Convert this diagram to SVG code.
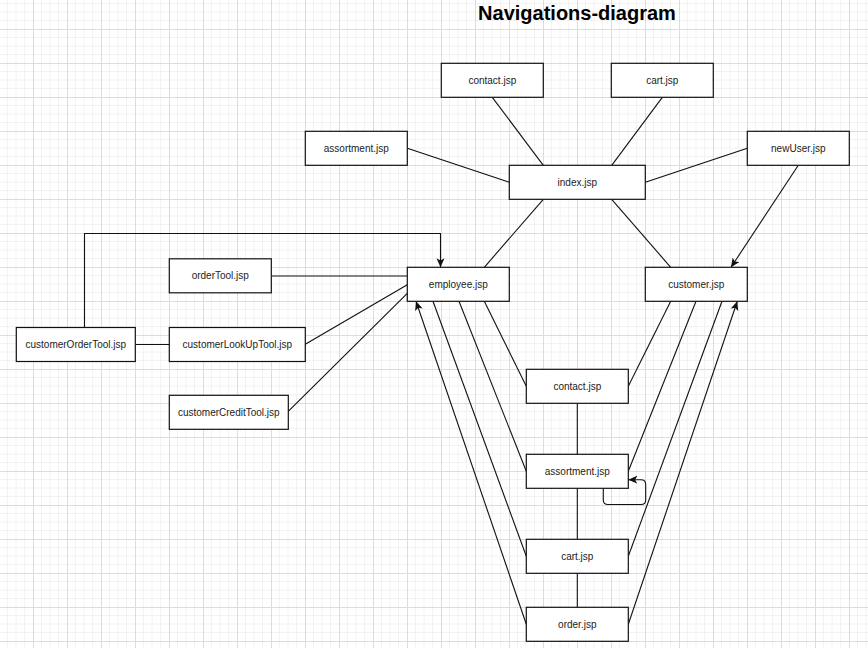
<svg xmlns="http://www.w3.org/2000/svg" width="868" height="648" viewBox="0 0 868 648">
<defs>
<pattern id="grid" patternUnits="userSpaceOnUse" x="33" y="29" width="34" height="34">
<path d="M8.5,0 V34 M17,0 V34 M25.5,0 V34 M0,8.5 H34 M0,17 H34 M0,25.5 H34" stroke="#f2f2f2" stroke-width="1" fill="none"/>
<path d="M0.5,0 V34 M0,0.5 H34" stroke="#dcdcdc" stroke-width="1" fill="none"/>
</pattern>
<marker id="arr" markerUnits="userSpaceOnUse" markerWidth="10" markerHeight="9" refX="9" refY="4" orient="auto">
<path d="M0,0 L9,4 L0,8 L2.2,4 Z" fill="#111"/>
</marker>
</defs>
<style>
.box{fill:#fff;stroke:#111;stroke-width:1.2}
.lbl{font-family:"Liberation Sans",Arial,sans-serif;font-size:10px;fill:#222;text-anchor:middle}
.edge{fill:none;stroke:#111;stroke-width:1.1}
.title{font-family:"Liberation Sans",Arial,sans-serif;font-size:20px;font-weight:bold;fill:#000;text-anchor:middle}
</style>
<rect width="868" height="648" fill="#fff"/>
<rect width="868" height="648" fill="url(#grid)"/>
<text class="title" x="577" y="20">Navigations-diagram</text>
<g id="connectors">
<path class="edge" d="M492.3,97.3 L543.3,165.3"/>
<path class="edge" d="M662.3,97.3 L611.7,165.3"/>
<path class="edge" d="M407.3,148.3 L509.3,182.3"/>
<path class="edge" d="M747.3,148.3 L645.3,182.3"/>
<path class="edge" d="M798.3,165.3 L731,267.3" marker-end="url(#arr)"/>
<path class="edge" d="M543.3,199.3 L484.3,267.3"/>
<path class="edge" d="M611.7,199.3 L670.7,267.3"/>
<path class="edge" d="M84.5,327.5 V233.5 H440.5 V267.3" marker-end="url(#arr)"/>
<path class="edge" d="M271.3,276 H407.3"/>
<path class="edge" d="M305.3,344.3 L407.3,284.7"/>
<path class="edge" d="M288,411.7 L407.3,293.3"/>
<path class="edge" d="M135.3,344.5 H169.3"/>
<path class="edge" d="M484.3,301.3 L526.3,386.3"/>
<path class="edge" d="M459,301.3 L526.3,471.3"/>
<path class="edge" d="M433,301.3 L526.3,556.3"/>
<path class="edge" d="M526.3,624.3 L416,301.3" marker-end="url(#arr)"/>
<path class="edge" d="M670.7,301.3 L628.3,386.3"/>
<path class="edge" d="M696,301.3 L628.3,471.3"/>
<path class="edge" d="M722,301.3 L628.3,556.3"/>
<path class="edge" d="M628.3,624.3 L737.3,301.3" marker-end="url(#arr)"/>
<path class="edge" d="M577.3,403.3 V454.3"/>
<path class="edge" d="M577.3,488.3 V539.3"/>
<path class="edge" d="M577.3,573.3 V607.3"/>
<path class="edge" d="M603.3,488.3 V500 Q603.3,504.5 608,504.5 H641 Q645.7,504.5 645.7,500 V484.5 Q645.7,479.7 641,479.7 H628.3" marker-end="url(#arr)"/>
</g>
<g id="contact-top"><rect class="box" x="441.3" y="63.3" width="102" height="34"/><text class="lbl" x="492.3" y="83.8">contact.jsp</text></g>
<g id="cart-top"><rect class="box" x="611.3" y="63.3" width="102" height="34"/><text class="lbl" x="662.3" y="83.8">cart.jsp</text></g>
<g id="assortment-top"><rect class="box" x="305.3" y="131.3" width="102" height="34"/><text class="lbl" x="356.3" y="151.8">assortment.jsp</text></g>
<g id="newUser"><rect class="box" x="747.3" y="131.3" width="102" height="34"/><text class="lbl" x="798.3" y="151.8">newUser.jsp</text></g>
<g id="index"><rect class="box" x="509.3" y="165.3" width="136" height="34"/><text class="lbl" x="577.3" y="185.8">index.jsp</text></g>
<g id="employee"><rect class="box" x="407.3" y="267.3" width="102" height="34"/><text class="lbl" x="458.3" y="287.8">employee.jsp</text></g>
<g id="customer"><rect class="box" x="645.3" y="267.3" width="102" height="34"/><text class="lbl" x="696.3" y="287.8">customer.jsp</text></g>
<g id="orderTool"><rect class="box" x="169.3" y="258.8" width="102" height="34"/><text class="lbl" x="220.3" y="279.3">orderTool.jsp</text></g>
<g id="customerOrderTool"><rect class="box" x="16.3" y="327.5" width="119" height="34"/><text class="lbl" x="75.8" y="348">customerOrderTool.jsp</text></g>
<g id="customerLookUpTool"><rect class="box" x="169.3" y="327.5" width="136" height="34"/><text class="lbl" x="237.3" y="348">customerLookUpTool.jsp</text></g>
<g id="customerCreditTool"><rect class="box" x="169.3" y="395.3" width="119" height="34"/><text class="lbl" x="228.8" y="415.8">customerCreditTool.jsp</text></g>
<g id="contact"><rect class="box" x="526.3" y="369.3" width="102" height="34"/><text class="lbl" x="577.3" y="389.8">contact.jsp</text></g>
<g id="assortment"><rect class="box" x="526.3" y="454.3" width="102" height="34"/><text class="lbl" x="577.3" y="474.8">assortment.jsp</text></g>
<g id="cart"><rect class="box" x="526.3" y="539.3" width="102" height="34"/><text class="lbl" x="577.3" y="559.8">cart.jsp</text></g>
<g id="order"><rect class="box" x="526.3" y="607.3" width="102" height="34"/><text class="lbl" x="577.3" y="627.8">order.jsp</text></g>
</svg>
